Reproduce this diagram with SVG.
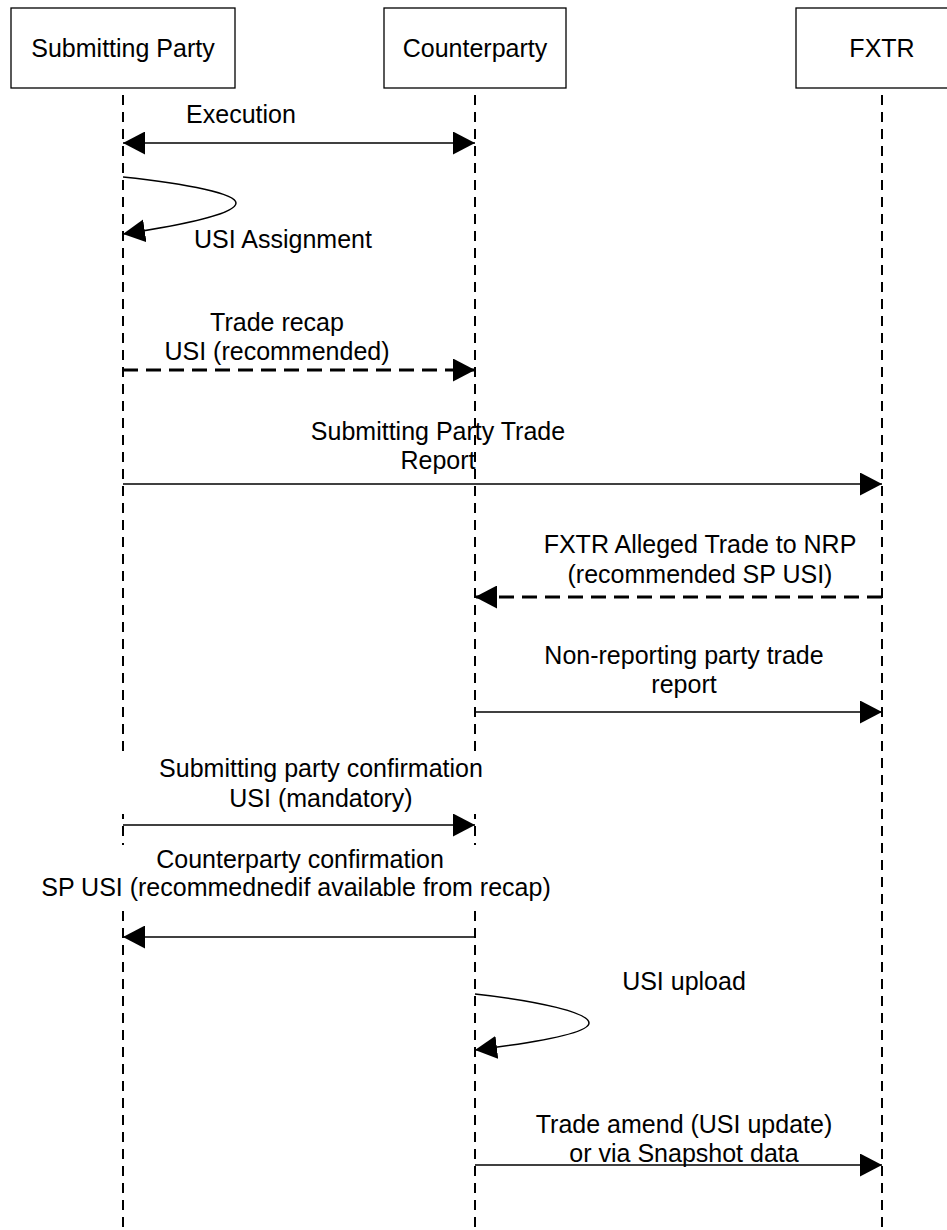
<svg xmlns="http://www.w3.org/2000/svg" width="947" height="1230" viewBox="0 0 947 1230">
<style>
.box{fill:#fff;stroke:#000;stroke-width:1.3}
.life{stroke:#000;stroke-width:2;stroke-dasharray:10 7;fill:none}
.msg{stroke:#000;stroke-width:1.5;fill:none}
.dmsg{stroke:#000;stroke-width:3;stroke-dasharray:15 8;fill:none}
.t{font-family:"Liberation Sans",Arial,sans-serif;font-size:25px;fill:#000;text-anchor:middle}
.mask{fill:#fff;stroke:none}
</style>
<defs>
<marker id="ah" markerUnits="userSpaceOnUse" markerWidth="23" markerHeight="23" refX="22" refY="11.5" orient="auto">
<path d="M0,0 L22,11.5 L0,23 Z" fill="#000"/>
</marker>
<marker id="ahs" markerUnits="userSpaceOnUse" markerWidth="23" markerHeight="23" refX="22" refY="11.5" orient="auto-start-reverse">
<path d="M0,0 L22,11.5 L0,23 Z" fill="#000"/>
</marker>
</defs>
<g id="lifelines">
<line class="life" x1="123" y1="95" x2="123" y2="1230"/>
<line class="life" x1="475" y1="95" x2="475" y2="1230"/>
<line class="life" x1="882" y1="95" x2="882" y2="1230"/>
</g>
<g id="node-submitting">
<rect class="box" x="11" y="8" width="224" height="80"/>
<text class="t" x="123" y="57">Submitting Party</text>
</g>
<g id="node-counterparty">
<rect class="box" x="384" y="8" width="182" height="80"/>
<text class="t" x="475" y="57">Counterparty</text>
</g>
<g id="node-fxtr">
<rect class="box" x="796" y="8" width="172" height="80"/>
<text class="t" x="882" y="57">FXTR</text>
</g>
<g id="connectors">
<line class="msg" x1="123" y1="143" x2="475" y2="143" marker-start="url(#ahs)" marker-end="url(#ah)"/>
<path class="msg" d="M123,177 C190,184 236,194 236,203 C236,213 190,224 123,234" marker-end="url(#ah)"/>
<line class="dmsg" x1="123" y1="370" x2="475" y2="370" marker-end="url(#ah)"/>
<line class="msg" x1="123" y1="484" x2="882" y2="484" marker-end="url(#ah)"/>
<line class="dmsg" x1="882" y1="597" x2="475" y2="597" marker-end="url(#ah)"/>
<line class="msg" x1="475" y1="712" x2="882" y2="712" marker-end="url(#ah)"/>
<line class="msg" x1="123" y1="825" x2="475" y2="825" marker-end="url(#ah)"/>
<line class="msg" x1="475" y1="937" x2="123" y2="937" marker-end="url(#ah)"/>
<path class="msg" d="M475,994 C540,1001 589,1013 589,1023 C589,1033 540,1042 475,1050" marker-end="url(#ah)"/>
<line class="msg" x1="475" y1="1165" x2="882" y2="1165" marker-end="url(#ah)"/>
</g>
<g id="labels">
<text class="t" x="241" y="123">Execution</text>
<text class="t" x="283" y="248">USI Assignment</text>
<text class="t" x="277" y="331">Trade recap</text>
<text class="t" x="277" y="360">USI (recommended)</text>
<text class="t" x="438" y="440">Submitting Party Trade</text>
<text class="t" x="438" y="469">Report</text>
<text class="t" x="700" y="553">FXTR Alleged Trade to NRP</text>
<text class="t" x="700" y="583">(recommended SP USI)</text>
<text class="t" x="684" y="664">Non-reporting party trade</text>
<text class="t" x="684" y="693">report</text>
<rect class="mask" x="110" y="755" width="385" height="59"/>
<text class="t" x="321" y="777">Submitting party confirmation</text>
<text class="t" x="321" y="807">USI (mandatory)</text>
<rect class="mask" x="30" y="845" width="535" height="60"/>
<text class="t" x="300" y="868">Counterparty confirmation</text>
<text class="t" x="296" y="896">SP USI (recommednedif available from recap)</text>
<text class="t" x="684" y="990">USI upload</text>
<text class="t" x="684" y="1133">Trade amend (USI update)</text>
<text class="t" x="684" y="1162">or via Snapshot data</text>
</g>
</svg>
